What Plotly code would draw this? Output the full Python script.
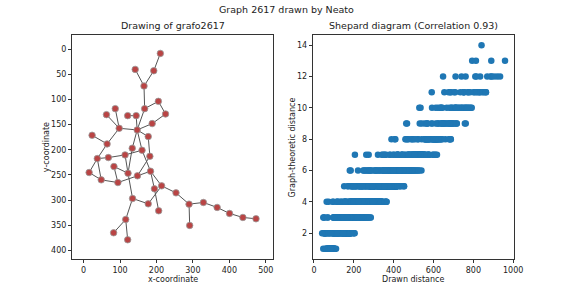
import plotly.graph_objects as go
import math
from collections import deque

# ---- Data: node positions of grafo2617 (Neato layout) ----
node_x = [210.6, 141.6, 192.6, 165.8, 167.6, 205.2, 224.9, 188.2, 86.9, 62.7,
          121.0, 144.3, 97.7, 147.0, 23.3, 177.4, 64.5, 133.5, 160.4, 37.6,
          68.0, 113.8, 181.9, 83.3, 15.2, 121.9, 147.8, 183.7, 48.4, 94.1,
          194.4, 214.1, 253.6, 134.4, 177.4, 206.1, 289.4, 328.8, 366.5, 400.5,
          437.2, 473.1, 291.2, 115.6, 82.4, 121.0]
node_y = [8.6, 40.3, 43.0, 73.4, 118.3, 103.8, 128.9, 148.0, 118.3, 130.2,
          132.2, 132.2, 157.3, 160.6, 171.2, 173.8, 188.4, 197.0, 200.9, 217.5,
          215.5, 210.2, 212.9, 233.3, 245.2, 246.6, 251.8, 242.6, 259.8, 265.1,
          277.6, 271.7, 285.6, 296.8, 307.4, 321.2, 308.0, 304.7, 314.6, 326.5,
          334.5, 337.1, 350.3, 338.4, 364.9, 378.8]
# edges (1-based node numbers)
edge_src = [1, 3, 2, 4, 5, 6, 7, 8, 5, 11, 12, 9, 10, 13, 14, 16, 14, 14, 18, 19,
            22, 21, 17, 13, 17, 20, 20, 25, 29, 30, 24, 30, 27, 23, 19, 28, 28, 32,
            31, 32, 33, 37, 38, 39, 40, 41, 37, 26, 34, 34, 44, 44, 22]
edge_dst = [3, 4, 4, 5, 6, 7, 8, 14, 14, 12, 14, 13, 13, 14, 16, 23, 18, 19, 26, 22,
            21, 20, 15, 17, 20, 25, 29, 29, 30, 24, 26, 27, 28, 27, 28, 31, 32, 35,
            36, 33, 37, 38, 39, 40, 41, 42, 43, 34, 35, 44, 45, 46, 26]
drawn_scale = 2.0  # layout units -> drawn distance units

x_ticks = [0, 100, 200, 300, 400, 500]
y_ticks = [0, 50, 100, 150, 200, 250, 300, 350, 400]
sx_ticks = [0, 200, 400, 600, 800, 1000]
sy_ticks = [2, 4, 6, 8, 10, 12, 14]

# ---- Shepard data: graph distance vs drawn distance for every node pair ----
n = len(node_x)
adj = [[] for _ in range(n)]
for a, b in zip(edge_src, edge_dst):
    adj[a - 1].append(b - 1)
    adj[b - 1].append(a - 1)
shep_x, shep_y = [], []
for s in range(n):
    dist = [-1] * n
    dist[s] = 0
    q = deque([s])
    while q:
        u = q.popleft()
        for v in adj[u]:
            if dist[v] < 0:
                dist[v] = dist[u] + 1
                q.append(v)
    for t in range(s + 1, n):
        if dist[t] > 0:
            shep_x.append(math.hypot(node_x[s] - node_x[t], node_y[s] - node_y[t]) * drawn_scale)
            shep_y.append(dist[t])

ex, ey = [], []
for a, b in zip(edge_src, edge_dst):
    ex += [node_x[a - 1], node_x[b - 1], None]
    ey += [node_y[a - 1], node_y[b - 1], None]

fig = go.Figure()
fig.add_trace(go.Scatter(x=ex, y=ey, mode="lines",
                         line=dict(color="#555555", width=1),
                         xaxis="x", yaxis="y", hoverinfo="skip", showlegend=False))
fig.add_trace(go.Scatter(x=node_x, y=node_y, mode="markers",
                         marker=dict(size=6.5, color="#b94444",
                                     line=dict(color="#9a9a9a", width=0.8)),
                         xaxis="x", yaxis="y", showlegend=False))
fig.add_trace(go.Scatter(x=shep_x, y=shep_y, mode="markers",
                         marker=dict(size=6.5, color="#1f77b4"),
                         xaxis="x2", yaxis="y2", showlegend=False))

font = dict(family="DejaVu Sans", size=8, color="#222222")
tfont = dict(family="DejaVu Sans", size=9.5, color="#222222")
axis_common = dict(showline=True, linecolor="#333333", linewidth=1, mirror=True,
                   ticks="outside", ticklen=3, tickwidth=0.8, tickcolor="#333333",
                   showgrid=False, zeroline=False, tickfont=font)

L1, R1, L2, R2 = 72.3 / 581, 277.7 / 581, 317.7 / 581, 522.5 / 581
B, T = 1 - 259 / 291, 1 - 35 / 291


def ann(text, x, y, f, angle=0):
    return dict(text=text, x=x, y=y, xref="paper", yref="paper", showarrow=False,
                xanchor="center", yanchor="middle", textangle=angle, font=f)


fig.update_layout(
    width=581, height=291,
    margin=dict(l=0, r=0, t=0, b=0),
    paper_bgcolor="white", plot_bgcolor="white",
    font=font,
    xaxis=dict(domain=[L1, R1], range=[-32, 521], tickvals=x_ticks, **axis_common),
    yaxis=dict(domain=[B, T], range=[417, -28], tickvals=y_ticks, **axis_common),
    xaxis2=dict(domain=[L2, R2], range=[-6.5, 1002], tickvals=sx_ticks,
                anchor="y2", **axis_common),
    yaxis2=dict(domain=[B, T], range=[0.35, 14.65], tickvals=sy_ticks,
                anchor="x2", **axis_common),
    annotations=[
        ann("Graph 2617 drawn by Neato", 0.5, 1 - 9 / 291, tfont),
        ann("Drawing of grafo2617", (L1 + R1) / 2, 1 - 25 / 291, tfont),
        ann("Shepard diagram (Correlation 0.93)", (L2 + R2) / 2, 1 - 25 / 291, tfont),
        ann("x-coordinate", (L1 + R1) / 2, 1 - 279 / 291, font),
        ann("Drawn distance", (L2 + R2) / 2, 1 - 279 / 291, font),
        ann("y-coordinate", 46 / 581, 1 - 147 / 291, font, -90),
        ann("Graph-theoretic distance", 297 / 581, 1 - 147 / 291, font, -90),
    ],
)

fig.write_html("out.html", config={"displayModeBar": False},
               post_script="document.body.style.margin='0';")
